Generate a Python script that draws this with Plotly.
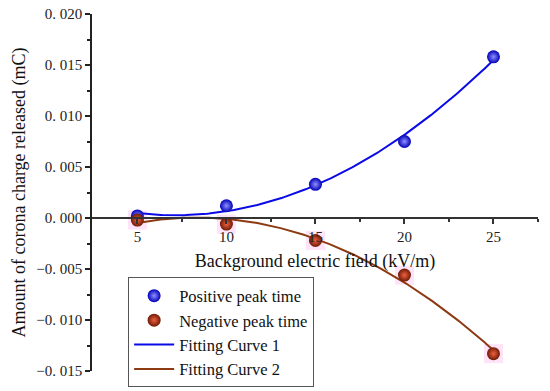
import numpy as np
import plotly.graph_objects as go

# Data
field_kv = [5, 10, 15, 20, 25]
positive_peak = [0.0002, 0.0012, 0.0033, 0.0075, 0.0158]
negative_peak = [-0.0002, -0.0006, -0.0022, -0.0056, -0.0133]
y_tick_vals = [-0.015, -0.010, -0.005, 0.000, 0.005, 0.010, 0.015, 0.020]
y_tick_text = ["\u22120. 015", "\u22120. 010", "\u22120. 005", "0. 000",
               "0. 005", "0. 010", "0. 015", "0. 020"]
x_tick_vals = [5, 10, 15, 20, 25]

# Quadratic fits derived from the data
xs = np.linspace(min(field_kv), max(field_kv), 200)
fit1 = np.polyval(np.polyfit(field_kv, positive_peak, 2), xs)
fit2 = np.polyval(np.polyfit(field_kv, negative_peak, 2), xs)

FONT = "Liberation Serif, Times New Roman, serif"
fig = go.Figure()

# faint pink halos behind negative markers
fig.add_trace(go.Scatter(x=field_kv, y=negative_peak, mode="markers",
                         marker=dict(symbol="square", size=19, color="rgba(255,215,245,0.7)"),
                         showlegend=False, hoverinfo="skip"))
fig.add_trace(go.Scatter(x=xs, y=fit1, mode="lines", line=dict(color="#0a0ae6", width=2),
                         showlegend=False))
fig.add_trace(go.Scatter(x=xs, y=fit2, mode="lines", line=dict(color="#8c3a12", width=2),
                         showlegend=False))
fig.add_trace(go.Scatter(x=field_kv, y=positive_peak, mode="markers", name="Positive peak time",
                         marker=dict(size=13, color="#0000b8",
                                     gradient=dict(type="radial", color="#9090ff"),
                                     line=dict(width=0))))
fig.add_trace(go.Scatter(x=field_kv, y=negative_peak, mode="markers", name="Negative peak time",
                         marker=dict(size=13, color="#6e1a05",
                                     gradient=dict(type="radial", color="#f06040"),
                                     line=dict(width=0))))
fig.add_trace(go.Scatter(x=[None], y=[None], mode="lines", name="Fitting Curve 1",
                         line=dict(color="#0a0ae6", width=2)))
fig.add_trace(go.Scatter(x=[None], y=[None], mode="lines", name="Fitting Curve 2",
                         line=dict(color="#8c3a12", width=2)))

y_min, y_max = -0.015, 0.020
zero_pos = (0 - y_min) / (y_max - y_min)

fig.update_layout(
    width=550, height=391,
    margin=dict(l=92, r=12, t=14, b=20, autoexpand=False),
    paper_bgcolor="white", plot_bgcolor="white",
    font=dict(family=FONT, size=14, color="#222"),
    showlegend=True,
    legend=dict(x=0.081, y=0.262, xanchor="left", yanchor="top",
                bordercolor="#555", borderwidth=1, bgcolor="white",
                font=dict(family=FONT, size=16.5, color="#111"),
                tracegroupgap=0, itemwidth=40),
    xaxis=dict(range=[2.45, 27.5], anchor="free", position=zero_pos, automargin=False,
               showline=True, linecolor="#333", linewidth=1.5,
               ticks="outside", ticklen=5, tickwidth=1.5, tickcolor="#333",
               tickvals=x_tick_vals, showgrid=False, zeroline=False,
               tickfont=dict(family=FONT, size=15, color="#222"),
               minor=dict(tickvals=[7.5, 12.5, 17.5, 22.5, 27.5], ticks="outside",
                          ticklen=3, tickwidth=1.5, tickcolor="#333", showgrid=False),
               title=dict(text="Background electric field (kV/m)",
                          font=dict(family=FONT, size=18, color="#111"), standoff=10)),
    yaxis=dict(range=[y_min, y_max], domain=[0, 1], automargin=False,
               showline=True, linecolor="#222", linewidth=1.5,
               ticks="outside", ticklen=5, tickwidth=1.5, tickcolor="#222",
               tickmode="array", tickvals=y_tick_vals, ticktext=y_tick_text,
               showgrid=False, zeroline=False,
               tickfont=dict(family=FONT, size=15, color="#222"),
               minor=dict(tickvals=[v + 0.0025 for v in y_tick_vals[:-1]], ticks="outside",
                          ticklen=3, tickwidth=1.5, tickcolor="#222", showgrid=False),
               title=dict(text="Amount of corona charge released (mC)",
                          font=dict(family=FONT, size=18, color="#111"), standoff=6)),
)

fig.write_html("out.html", config={"displayModeBar": False},
               post_script="document.body.style.margin='0';")
